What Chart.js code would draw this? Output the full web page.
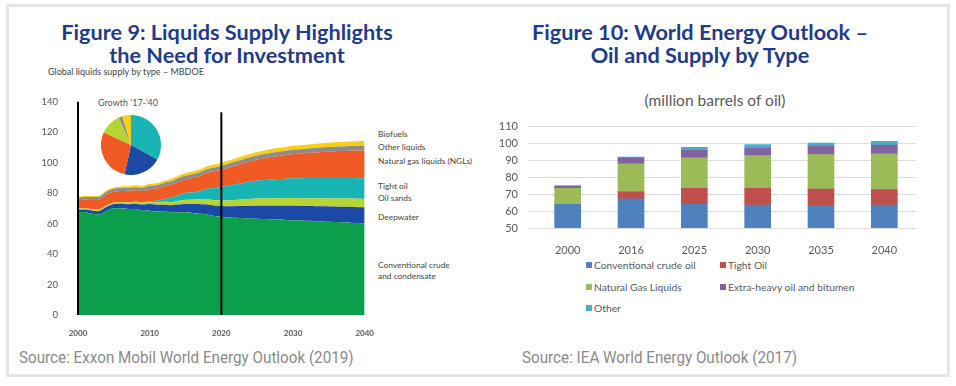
<!DOCTYPE html>
<html>
<head>
<meta charset="utf-8">
<script src="https://cdn.jsdelivr.net/npm/chart.js"></script>
<style>
  body { margin: 0; width: 956px; height: 386px; background: #fff; position: relative; overflow: hidden; font-family: "Lato", sans-serif; }
  .frame { position: absolute; left: 6px; top: 4px; width: 938px; height: 367px; border: 3px solid #e6e6e3; }
  .abs { position: absolute; white-space: nowrap; }
  .title { color: #1f3c88; font-family: "Lato", sans-serif; font-weight: 700; font-size: 21.7px; line-height: 23px; text-align: center; }
  .src { color: #8a8a8a; font-family: "Roboto", sans-serif; font-size: 17px; transform: scaleX(0.895); transform-origin: left center; }
  .lab { color: #444; font-size: 8.4px; line-height: 10.5px; }
  .leg { color: #595959; font-size: 10.3px; }
  .sq { display: inline-block; width: 6px; height: 6px; margin-right: 2px; vertical-align: 1px; }
  canvas { position: absolute; }
</style>
</head>
<body>
<div class="frame"></div>

<div class="abs title" style="left:27px; top:21px; width:400px;">Figure 9: Liquids Supply Highlights<br>the Need for Investment</div>
<div class="abs" style="left:48px; top:66px; font-size:9px; color:#444;">Global liquids supply by type &ndash; MBDOE</div>
<div class="abs" style="left:98px; top:97px; font-size:9px; color:#555;">Growth &#8217;17-&#8217;40</div>

<div class="abs lab" style="left:378px; top:129px;">Biofuels</div>
<div class="abs lab" style="left:378px; top:142px;">Other liquids</div>
<div class="abs lab" style="left:378px; top:156px;">Natural gas liquids (NGLs)</div>
<div class="abs lab" style="left:378px; top:181px;">Tight oil</div>
<div class="abs lab" style="left:378px; top:193px;">Oil sands</div>
<div class="abs lab" style="left:378px; top:212px;">Deepwater</div>
<div class="abs lab" style="left:378px; top:260px;">Conventional crude<br>and condensate</div>

<div class="abs src" style="left:19px; top:347px;">Source: Exxon Mobil World Energy Outlook (2019)</div>

<div class="abs title" style="left:500px; top:21px; width:400px;">Figure 10: World Energy Outlook &ndash;<br>Oil and Supply by Type</div>
<div class="abs" style="left:515px; top:91px; width:400px; text-align:center; font-size:15.5px; color:#595959;">(million barrels of oil)</div>

<div class="abs leg" style="left:586px; top:259px;"><span class="sq" style="background:#4f81bd"></span>Conventional crude oil</div>
<div class="abs leg" style="left:720px; top:259px;"><span class="sq" style="background:#c0504d"></span>Tight Oil</div>
<div class="abs leg" style="left:586px; top:281px;"><span class="sq" style="background:#9bbb59"></span>Natural Gas Liquids</div>
<div class="abs leg" style="left:720px; top:281px;"><span class="sq" style="background:#8064a2"></span>Extra-heavy oil and bitumen</div>
<div class="abs leg" style="left:586px; top:302px;"><span class="sq" style="background:#4bacc6"></span>Other</div>

<div class="abs src" style="left:522px; top:347px;">Source: IEA World Energy Outlook (2017)</div>

<canvas id="area" width="350" height="258" style="left:30px; top:84px;"></canvas>
<canvas id="pie" width="60" height="60" style="left:101px; top:115px;"></canvas>
<canvas id="bars" width="430" height="145" style="left:495px; top:110px;"></canvas>

<script>
// ---- Figure 9: global liquids supply by type (MBDOE) ----
const years = [2000, 2001, 2002, 2003, 2004, 2005, 2006, 2007, 2008, 2009,
  2010, 2011, 2012, 2013, 2014, 2015, 2016, 2017, 2018, 2019,
  2020, 2021, 2022, 2023, 2024, 2025, 2026, 2027, 2028, 2029,
  2030, 2031, 2032, 2033, 2034, 2035, 2036, 2037, 2038, 2039, 2040];

const conventional = [67.5, 67.5, 66.5, 66, 68.5, 70, 70, 69.5, 69.5, 68.5,
  68.5, 68, 68, 67.5, 67.5, 67.5, 67, 66.5, 66, 65,
  64.5, 64, 63.8, 63.6, 63.4, 63.2, 63, 62.8, 62.6, 62.4,
  62.2, 62, 61.8, 61.6, 61.4, 61.2, 61, 60.8, 60.6, 60.4, 60.2];
const deepwater = [1.5, 1.7, 2, 2.2, 2.5, 2.8, 3, 3.2, 3.5, 4,
  4.3, 4.3, 4.4, 4.6, 5, 5.4, 5.8, 6.2, 6.5, 6.8,
  7, 7.3, 7.6, 7.9, 8.2, 8.5, 8.7, 8.9, 9.1, 9.3,
  9.5, 9.6, 9.7, 9.8, 9.9, 10, 10.1, 10.2, 10.3, 10.4, 10.5];
const oilSands = [0.8, 0.9, 1, 1, 1.1, 1.1, 1.2, 1.3, 1.3, 1.4,
  1.5, 1.7, 1.9, 2.1, 2.4, 2.7, 2.9, 3.1, 3.3, 3.5,
  3.7, 3.9, 4.1, 4.3, 4.5, 4.7, 4.8, 4.9, 5, 5,
  5.1, 5.1, 5.2, 5.2, 5.3, 5.3, 5.4, 5.4, 5.5, 5.5, 5.5];
const tightOil = [0, 0, 0, 0, 0, 0, 0, 0, 0, 0,
  0.5, 1, 1.8, 2.8, 3.8, 4.5, 4.8, 5.5, 7, 8,
  9, 9.7, 10.3, 10.9, 11.4, 11.8, 12.1, 12.4, 12.6, 12.8,
  13, 13.1, 13.2, 13.3, 13.4, 13.4, 13.5, 13.5, 13.5, 13.5, 13.5];
const ngls = [5.5, 5.6, 6, 6.5, 7, 7, 7.2, 7.3, 7.5, 7.5,
  7.8, 8, 8.3, 8.5, 8.8, 9, 9.5, 10, 10.5, 11,
  11.3, 11.8, 12.3, 12.8, 13.3, 13.8, 14.3, 14.7, 15.1, 15.5,
  15.8, 16.1, 16.4, 16.7, 17, 17.3, 17.5, 17.7, 17.9, 18.1, 18.3];
const otherLiquids = [1.8, 1.8, 1.9, 1.9, 2, 2, 2, 2.1, 2.1, 2.1,
  2.2, 2.2, 2.3, 2.3, 2.3, 2.4, 2.4, 2.4, 2.5, 2.5,
  2.5, 2.6, 2.6, 2.6, 2.7, 2.7, 2.7, 2.8, 2.8, 2.8,
  2.9, 2.9, 2.9, 3, 3, 3, 3, 3, 3.1, 3.1, 3.1];
const biofuels = [0.6, 0.6, 0.7, 0.7, 0.8, 0.9, 1, 1.1, 1.2, 1.2,
  1.3, 1.3, 1.4, 1.5, 1.6, 1.7, 1.8, 1.8, 1.9, 1.9,
  2, 2.1, 2.1, 2.2, 2.3, 2.3, 2.4, 2.4, 2.5, 2.5,
  2.6, 2.6, 2.7, 2.7, 2.8, 2.8, 2.9, 2.9, 3, 3.1, 3.2];

// growth '17-'40 shares (%), clockwise from 12 o'clock
const growthLabels = ["Tight oil", "Deepwater", "NGLs", "Oil sands", "Other liquids", "Biofuels"];
const growthShares = [33, 20.5, 28.5, 11.4, 2, 4.7];

const c9 = {
  conv: "#0b9f4b",
  deep: "#1b49a5",
  sands: "#b8d433",
  tight: "#19b4b4",
  ngl: "#f15a24",
  other: "#8c8c8a",
  bio: "#f8d013",
};

function layer(data, color, first) {
  return {
    data: data,
    backgroundColor: color,
    borderWidth: 0,
    pointRadius: 0,
    fill: first ? "origin" : "-1",
    tension: 0.2,
  };
}

// black axis line on the left + the 2020 divider
const dividers = {
  id: "dividers",
  afterDatasetsDraw(chart) {
    const { ctx, scales: { x, y } } = chart;
    ctx.save();
    ctx.strokeStyle = "#000";
    ctx.lineWidth = 2;
    ctx.beginPath();
    ctx.moveTo(x.getPixelForValue(0), y.getPixelForValue(140));
    ctx.lineTo(x.getPixelForValue(0), y.getPixelForValue(0));
    const i2020 = years.indexOf(2020);
    ctx.moveTo(x.getPixelForValue(i2020), y.getPixelForValue(133));
    ctx.lineTo(x.getPixelForValue(i2020), y.getPixelForValue(0));
    ctx.stroke();
    ctx.restore();
  },
};

new Chart(document.getElementById("area"), {
  type: "line",
  data: {
    labels: years,
    datasets: [
      layer(conventional, c9.conv, true),
      layer(deepwater, c9.deep),
      layer(oilSands, c9.sands),
      layer(tightOil, c9.tight),
      layer(ngls, c9.ngl),
      layer(otherLiquids, c9.other),
      layer(biofuels, c9.bio),
    ],
  },
  options: {
    responsive: false,
    animation: false,
    layout: { padding: { top: 1, right: 10 } },
    plugins: { legend: { display: false }, tooltip: { enabled: false } },
    scales: {
      x: {
        grid: { display: false },
        border: { display: false },
        ticks: {
          autoSkip: false,
          maxRotation: 0,
          color: "#555",
          padding: 6,
          font: { family: "Lato", size: 8, weight: "bold" },
          callback: (v, i) => (years[i] % 10 === 0 ? String(years[i]) : ""),
        },
        afterFit: (s) => { s.height = 27; },
      },
      y: {
        stacked: true,
        min: 0,
        max: 140,
        grid: { display: false },
        border: { display: false },
        ticks: { stepSize: 20, color: "#555", padding: 12, font: { family: "Lato", size: 9.5 } },
        afterFit: (s) => { s.width = 48; },
      },
    },
  },
  plugins: [dividers],
});

new Chart(document.getElementById("pie"), {
  type: "pie",
  data: {
    labels: growthLabels,
    datasets: [{
      data: growthShares,
      backgroundColor: [c9.tight, c9.deep, c9.ngl, c9.sands, c9.other, c9.bio],
      borderWidth: 0,
    }],
  },
  options: {
    responsive: false,
    animation: false,
    plugins: { legend: { display: false }, tooltip: { enabled: false } },
  },
});

// ---- Figure 10: oil supply by type (million barrels) ----
const outlookYears = ["2000", "2016", "2025", "2030", "2035", "2040"];
const conventionalCrude = [64, 67.2, 64, 63.6, 63, 63.6];
const tightOilWeo = [0, 4.2, 9.4, 9.8, 10, 9.2];
const naturalGasLiquids = [9.4, 16.6, 18.1, 19.5, 20.5, 21.1];
const extraHeavy = [1.3, 3.5, 4.5, 4.3, 5, 5.2];
const otherWeo = [0.4, 0.4, 1.8, 2.1, 1.8, 2.2];

const c10 = {
  blue: "#4f81bd",
  red: "#c0504d",
  green: "#9bbb59",
  purple: "#8064a2",
  teal: "#4bacc6",
};

function bar(label, data, color) {
  return { label: label, data: data, backgroundColor: color, barThickness: 26 };
}

new Chart(document.getElementById("bars"), {
  type: "bar",
  data: {
    labels: outlookYears,
    datasets: [
      bar("Conventional crude oil", conventionalCrude, c10.blue),
      bar("Tight Oil", tightOilWeo, c10.red),
      bar("Natural Gas Liquids", naturalGasLiquids, c10.green),
      bar("Extra-heavy oil and bitumen", extraHeavy, c10.purple),
      bar("Other", otherWeo, c10.teal),
    ],
  },
  options: {
    responsive: false,
    animation: false,
    layout: { padding: { top: 5, right: 9 } },
    plugins: { legend: { display: false }, tooltip: { enabled: false } },
    scales: {
      x: {
        stacked: true,
        grid: { display: false },
        border: { display: false },
        ticks: { color: "#595959", padding: 8, font: { family: "Lato", size: 11 } },
        afterFit: (s) => { s.height = 27; },
      },
      y: {
        stacked: true,
        min: 50,
        max: 110,
        grid: { color: "#dcdcdc" },
        border: { display: false },
        ticks: { stepSize: 10, autoSkip: false, color: "#595959", padding: 10, font: { family: "Lato", size: 11 } },
        afterFit: (s) => { s.width = 41; },
      },
    },
  },
});
</script>
</body>
</html>
